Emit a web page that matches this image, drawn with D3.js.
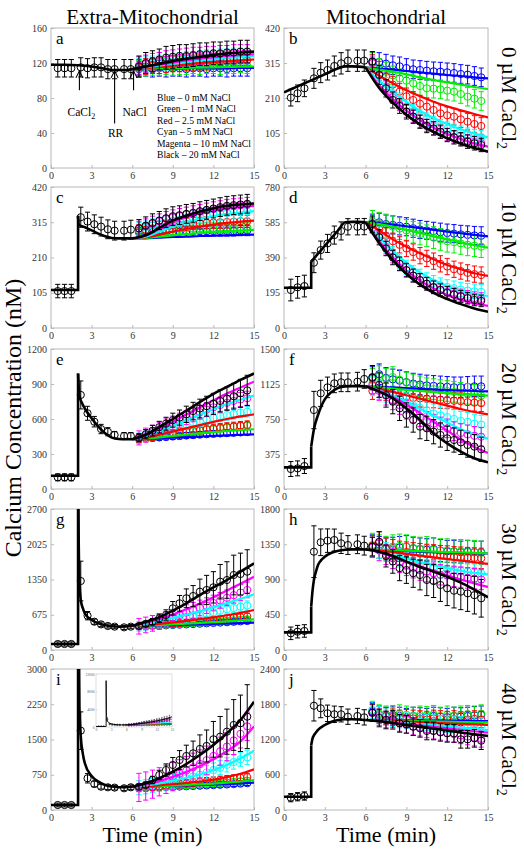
<!DOCTYPE html>
<html><head><meta charset="utf-8">
<script src="https://cdn.jsdelivr.net/npm/d3@7"></script>
<style>
body{margin:0;background:#fff}
svg{display:block}
text{font-family:"Liberation Serif","Times New Roman",serif !important;font-weight:normal}
</style>
</head><body>
<svg id="c" width="524" height="854"></svg>
<script>
// ---------- shared data ----------
const seriesLegend = ["Blue \u2013 0 mM NaCl","Green \u2013 1 mM NaCl","Red \u2013 2.5 mM NaCl","Cyan \u2013 5 mM NaCl","Magenta \u2013 10 mM NaCl","Black \u2013 20 mM NaCl"];
const seriesColors = ["#0000ff","#00ee00","#ff0000","#00ffff","#ff00ff","#000000"];
const timePre = [0.5,1,1.5,2.2,2.7,3.2,3.7,4.2,4.7,5.4,5.9];
const timePost = [6.5,7,7.5,8,8.5,9,9.5,10,10.5,11,11.5,12,12.5,13,13.5,14,14.5];
const modelPostTime = [6,7,8,9,10,11,12,13,14,15];
const xTicks = [0,3,6,9,12,15];
const columnTitles = ["Extra-Mitochondrial","Mitochondrial"];
const rowLabels = ["0 \u00b5M CaCl","10 \u00b5M CaCl","20 \u00b5M CaCl","30 \u00b5M CaCl","40 \u00b5M CaCl"];
const yTitle = "Calcium Concentration (nM)";
const xTitle = "Time (min)";

// ---------- panel a ----------
const aYTicks = [0,40,80,120,160];
const aModelPreT = [0,1,2,3,4,4.5,5,5.5,6];
const aModelPre = [118,118,117.5,116,113.5,112,112,112,113];
const aModelPost = [
 [113,113,113.5,113.5,114,114,114,114,114.5,114.5],
 [113,113.3,113.7,114,114.4,114.8,115.1,115.4,115.7,116],
 [113,114,115.5,117,118.5,120,121,122,123,124],
 [113,115,117,119,121,123,124.5,126,127,128],
 [113,115.5,118,120.5,123,125,126.5,128,129,130],
 [113,116,119,122,125,127,129,131,132,133]];
const aBlackPre = [114,114,114,115,114,115,115,113,113,113,113];
const aBlackPreErr = [10,10,10,11,11,11,11,11,11,11,11];
const aPostData = [
 [113,114,113,114,113,114,114,113,114,114,113,114,114,113,114,114,114],
 [114,114,115,115,116,115,116,116,117,116,117,117,116,117,117,118,117],
 [115,116,117,117,118,119,119,120,120,121,121,122,122,122,123,123,123],
 [116,118,119,120,121,122,123,124,124,125,126,126,127,127,128,128,128],
 [117,119,121,122,124,125,126,127,128,128,129,129,130,130,131,131,131],
 [116,120,122,124,126,127,128,128,129,130,130,131,131,132,132,133,133]];
const aColorErr = [9,9,9,9,10];
const aBlackPostErr = [12,12,12,12,13,13,13,13,13,13,13,13,13,13,13,13,13];

// ---------- panel b ----------
const bYTicks = [0,105,210,315,420];
const bModelPreT = [0,1,2,3,4,4.5,5,5.5,6];
const bModelPre = [227,245,263,281,299,305,305,304,302];
const bModelPost = [
 [302,298,295,291,287,283,279,276,272,269],
 [302,295,289,281,272,264,257,250,243,237],
 [302,277,254,233,215,199,185,173,162,152],
 [302,262,228,198,172,150,132,116,103,92],
 [302,248,206,172,144,121,102,87,74,64],
 [302,240,196,160,131,108,89,73,60,49]];
const bBlackPre = [211,224,239,269,286,294,306,314,322,322,322];
const bBlackPreErr = [25,25,25,30,30,30,30,32,32,32,32];
const bPostData = [
 [320,318,313,308,305,300,296,294,292,290,289,287,285,282,280,276,272],
 [318,300,289,278,269,262,254,246,239,238,236,232,229,222,214,208,201],
 [315,295,274,250,229,215,204,193,184,174,164,158,154,146,139,132,126],
 [318,285,252,225,205,185,170,155,145,135,125,118,112,106,100,96,92],
 [315,280,245,212,190,170,155,140,128,117,108,100,93,87,82,78,75],
 [319,279,239,204,186,169,154,139,126,119,109,99,92,86,79,74,69]];
const bColorErr = [28,28,25,20,18];
const bBlackPostErr = [30,28,26,24,22,22,20,20,20,20,20,20,20,20,20,20,20];

// ---------- panel c ----------
const cYTicks = [0,105,210,315,420];
const cModelPreT = [0,2,2,2.05,2.5,3,3.5,4,4.5,5,5.5,6];
const cModelPre = [113,113,334,308,300,291,281,273,268,267,267,267];
const cModelPost = [
 [267,267,269,271,272,274,275,276,277,278],
 [267,268,272,276,280,283,286,288,290,292],
 [267,270,278,287,295,302,308,313,317,320],
 [267,272,287,302,315,325,333,339,344,348],
 [267,275,295,315,330,342,351,357,361,364],
 [267,276,298,320,335,347,357,364,368,371]];
const cBlackPre = [110,110,110,330,317,309,302,294,290,290,293];
const cBlackPreErr = [20,20,20,30,28,28,28,28,28,28,28];
const cPostData = [
 [285,285,286,286,287,287,287,288,288,288,288,289,289,289,289,290,290],
 [288,289,290,292,293,294,295,296,296,297,298,298,299,299,300,300,300],
 [290,293,297,300,303,305,307,309,311,312,313,314,315,316,317,318,318],
 [294,299,305,310,315,319,323,327,330,333,336,339,341,343,345,347,348],
 [296,303,311,318,325,330,334,338,342,346,350,354,357,361,363,365,367],
 [297,305,313,320,327,333,336,340,343,348,352,356,360,364,366,368,370]];
const cColorErr = [15,15,18,20,22];
const cBlackPostErr = [26,26,27,27,28,28,28,28,28,28,28,28,28,28,28,28,28];

// ---------- panel d ----------
const dYTicks = [0,195,390,585,780];
const dModelPreT = [0,2,2,2.5,3,3.5,4,4.5,5,5.5,6];
const dModelPre = [223,223,367,411,455,498,542,585,587,587,585];
const dModelPost = [
 [585,580,572,563,553,543,533,524,515,507],
 [585,575,560,543,525,507,490,474,458,445],
 [585,540,490,450,413,380,349,325,303,288],
 [585,500,425,360,308,265,232,206,188,177],
 [585,480,390,318,262,218,183,155,136,122],
 [585,470,375,300,240,195,160,132,108,90]];
const dBlackPre = [210,225,232,361,431,468,514,537,560,560,561];
const dBlackPreErr = [60,60,60,55,50,50,50,50,45,45,45];
const dPostData = [
 [580,585,575,570,565,560,552,545,540,535,530,525,522,518,515,512,510],
 [590,580,570,560,550,540,530,520,510,500,490,480,475,468,460,455,450],
 [570,545,510,480,460,440,420,400,385,370,355,340,325,315,305,298,293],
 [575,520,460,410,370,335,305,285,265,250,237,227,220,213,207,203,200],
 [575,505,445,395,355,320,290,265,245,228,213,200,190,180,172,165,160],
 [575,502,440,390,355,320,290,265,245,225,210,195,185,175,165,155,150]];
const dColorErr = [50,60,45,40,35];
const dBlackPostErr = [45,42,40,40,38,38,36,36,35,35,34,34,33,33,32,32,32];

// ---------- panel e ----------
const eYTicks = [0,300,600,900,1200];
const eModelPreT = [0,2,2,2.1,2.3,2.5,3,3.5,4,4.5,5,5.5,6];
const eModelPre = [114,114,990,800,735,690,606,534,477,440,428,426,426];
const eModelPost = [
 [426,429,434,440,445,450,455,460,465,469],
 [426,432,443,455,466,477,488,497,505,512],
 [426,440,465,492,520,548,575,600,622,640],
 [426,452,495,540,590,638,685,728,765,800],
 [426,460,515,575,638,700,760,818,870,920],
 [426,465,530,600,672,745,815,875,935,990]];
const eBlackPre = [100,100,100,806,649,577,514,491,463,454,454];
const eBlackPreErr = [30,30,30,120,60,45,40,35,30,30,30];
const ePostData = [
 [430,434,438,442,446,450,454,458,462,466,470,473,476,479,482,485,488],
 [430,438,447,455,462,470,478,485,492,500,507,513,520,527,534,540,545],
 [432,440,450,460,468,476,485,492,500,507,514,520,527,533,538,544,549],
 [435,452,470,488,505,520,538,553,568,582,596,608,622,634,645,655,663],
 [438,462,488,512,540,565,590,612,636,658,680,700,720,738,755,768,778],
 [440,470,500,530,560,590,612,640,668,690,710,730,755,775,795,820,845]];
const eColorErr = [25,30,35,45,60];
const eBlackPostErr = [35,40,45,50,55,60,65,70,75,80,85,90,95,100,110,120,130];

// ---------- panel f ----------
const fYTicks = [0,375,750,1125,1500];
const fModelPreT = [0,2,2,2.2,2.5,2.75,3,3.5,4,4.5,5,5.5,6];
const fModelPre = [232,232,454,640,793,890,960,1040,1085,1100,1102,1102,1100];
const fModelPost = [
 [1100,1095,1088,1080,1073,1066,1060,1055,1050,1045],
 [1100,1088,1075,1062,1050,1038,1027,1017,1008,1000],
 [1100,1072,1040,1005,968,930,893,857,825,800],
 [1100,1055,1000,935,860,785,710,640,583,540],
 [1100,1050,985,905,815,720,625,530,450,385],
 [1100,1043,971,864,739,596,489,400,329,286]];
const fBlackPre = [214,221,246,846,1025,1089,1132,1143,1143,1150,1179];
const fBlackPreErr = [80,80,80,200,140,110,100,100,100,100,100];
const fPostData = [
 [1200,1230,1190,1175,1160,1145,1130,1120,1110,1105,1100,1095,1090,1090,1095,1100,1100],
 [1180,1210,1180,1200,1170,1140,1120,1100,1080,1070,1060,1050,1040,1030,1020,1010,1000],
 [1050,1070,1040,1010,1000,990,975,970,965,960,955,950,945,940,930,925,920],
 [1100,1060,1030,1000,960,930,900,870,840,810,790,770,750,730,720,700,690],
 [1120,1050,1000,950,900,850,810,770,730,700,670,650,620,600,585,570,560],
 [1193,1114,1007,936,864,793,739,668,650,614,579,543,525,500,471,454,425]];
const fColorErr = [110,110,90,100,100];
const fBlackPostErr = [130,130,130,130,130,130,130,130,130,130,130,130,130,130,130,130,130];

// ---------- panel g ----------
const gYTicks = [0,675,1350,2025,2700];
const gModelPreT = [0,2,2,2.05,2.1,2.2,2.35,2.5,3,3.5,4,4.5,5,5.5,6];
const gModelPre = [115,115,3500,2000,1340,958,800,702,575,511,473,455,447,450,460];
const gModelPost = [
 [460,465,471,478,485,492,500,508,516,523],
 [460,468,478,490,503,517,532,548,567,588],
 [460,478,500,527,557,590,625,665,712,766],
 [460,500,550,610,675,745,820,900,980,1066],
 [460,520,590,680,780,890,1010,1140,1270,1404],
 [460,542,626,753,894,1053,1200,1340,1500,1660]];
const gBlackPre = [115,115,115,1321,657,542,491,460,447,434,447];
const gBlackPreErr = [40,40,40,380,80,50,45,40,40,40,40];
const gPostData = [
 [450,455,460,466,472,478,484,490,497,504,511,518,525,532,540,548,555],
 [450,457,465,472,480,488,496,505,513,522,530,540,550,560,570,580,590],
 [450,460,470,480,490,502,515,528,540,553,566,580,594,608,620,632,645],
 [452,470,490,512,535,560,585,610,635,660,690,720,750,780,805,830,850],
 [455,480,510,545,585,625,670,715,760,805,850,900,950,1000,1050,1100,1150],
 [460,498,542,606,670,798,894,990,1034,1117,1149,1200,1308,1340,1436,1455,1500]];
const gColorErr = [40,50,60,90,150];
const gBlackPostErr = [40,50,60,80,100,130,150,180,200,240,280,300,330,350,380,400,420];

// ---------- panel h ----------
const hYTicks = [0,450,900,1350,1800];
const hModelPreT = [0,2,2,2.1,2.2,2.35,2.5,2.75,3,3.5,4,4.5,5,5.5,6];
const hModelPre = [225,225,553,760,894,1000,1085,1150,1191,1242,1268,1280,1285,1285,1283];
const hModelPost = [
 [1283,1278,1270,1262,1255,1250,1245,1240,1236,1232],
 [1283,1280,1275,1268,1262,1256,1250,1245,1240,1235],
 [1283,1270,1250,1228,1205,1182,1160,1140,1120,1100],
 [1283,1252,1210,1165,1122,1082,1045,1012,985,965],
 [1283,1245,1190,1130,1070,1012,955,900,850,805],
 [1283,1255,1200,1128,1060,1000,936,860,770,673]];
const hBlackPre = [213,234,243,1255,1375,1396,1404,1362,1340,1350,1332];
const hBlackPreErr = [80,80,80,330,170,150,140,130,120,120,120];
const hPostData = [
 [1330,1310,1290,1300,1310,1320,1300,1290,1280,1290,1270,1260,1260,1250,1260,1250,1250],
 [1340,1320,1300,1320,1330,1320,1300,1290,1300,1280,1270,1270,1260,1260,1250,1250,1240],
 [1330,1380,1300,1280,1260,1250,1240,1230,1220,1215,1205,1200,1190,1185,1180,1175,1170],
 [1320,1290,1250,1210,1180,1150,1120,1100,1080,1060,1040,1030,1020,1010,1000,990,980],
 [1310,1270,1220,1170,1120,1080,1050,1020,1000,980,960,950,940,930,920,910,900],
 [1320,1380,1200,1130,1045,1020,980,957,894,880,830,787,757,745,723,700,660]];
const hColorErr = [140,150,130,120,130];
const hBlackPostErr = [120,130,140,150,160,170,180,190,200,210,210,220,220,230,230,240,240];

// ---------- panel i ----------
const iYTicks = [0,750,1500,2250,3000];
const iModelPreT = [0,2,2,2.05,2.1,2.2,2.35,2.5,3,3.5,4,4.5,5,5.5,6];
const iModelPre = [106,106,10500,4000,2200,1560,1200,994,724,603,532,500,483,485,496];
const iModelPost = [
 [496,500,506,513,521,530,540,552,565,581],
 [496,502,510,520,532,546,562,582,606,638],
 [496,508,525,548,575,607,645,700,770,866],
 [496,525,568,620,685,760,850,960,1095,1262],
 [496,545,615,705,810,935,1080,1250,1460,1780],
 [496,568,675,816,979,1170,1383,1632,1915,2305]];
const iBlackPre = [106,106,106,1688,675,553,496,483,476,462,483];
const iBlackPreErr = [40,40,40,400,100,60,50,50,50,50,50];
const iPostData = [
 [470,474,478,483,488,493,498,504,510,516,522,529,536,543,551,560,570],
 [470,476,483,490,497,505,513,521,530,540,550,560,572,585,598,612,625],
 [470,480,490,505,520,535,550,565,580,595,610,625,640,655,670,685,700],
 [475,495,520,545,575,605,640,675,715,755,800,850,900,960,1020,1080,1120],
 [480,510,550,600,650,710,770,840,910,980,1060,1150,1250,1350,1480,1620,1780],
 [496,532,638,745,851,958,1064,1149,1206,1298,1362,1504,1560,1666,1809,1845,1986]];
const iColorErr = [50,60,80,150,300];
const iBlackPostErr = [50,60,80,100,130,160,200,230,260,300,340,380,430,480,540,600,680];
const insetYTicks = [0,4000,8000,12000];

// ---------- panel j ----------
const jYTicks = [0,600,1200,1800,2400];
const jModelPreT = [0,2,2,2.1,2.2,2.35,2.5,3,3.5,4,4.5,5,5.5,6];
const jModelPre = [226,226,1100,1220,1270,1320,1362,1447,1503,1532,1544,1545,1540,1532];
const jModelPost = [
 [1532,1530,1528,1526,1524,1522,1520,1518,1516,1514],
 [1532,1528,1523,1518,1513,1508,1503,1498,1494,1490],
 [1532,1524,1515,1505,1495,1485,1475,1466,1457,1448],
 [1532,1518,1500,1480,1460,1440,1420,1400,1380,1360],
 [1532,1514,1490,1465,1440,1415,1390,1365,1340,1316],
 [1532,1510,1480,1447,1415,1385,1355,1320,1290,1259]];
const jBlackPre = [210,226,238,1775,1731,1646,1629,1629,1588,1600,1577];
const jBlackPreErr = [70,70,70,260,160,140,140,130,130,130,130];
const jPostData = [
 [1680,1620,1600,1620,1600,1580,1600,1590,1580,1600,1590,1580,1600,1590,1600,1610,1620],
 [1700,1640,1620,1600,1640,1620,1600,1620,1610,1630,1600,1620,1600,1620,1630,1620,1640],
 [1660,1620,1600,1580,1560,1570,1560,1550,1540,1560,1550,1540,1550,1530,1540,1550,1540],
 [1700,1620,1580,1560,1540,1530,1510,1500,1490,1480,1470,1460,1460,1450,1440,1440,1430],
 [1650,1580,1540,1510,1480,1450,1420,1400,1370,1350,1330,1310,1290,1270,1250,1230,1210],
 [1656,1566,1532,1545,1475,1458,1418,1390,1345,1345,1322,1305,1305,1203,1203,1220,1180]];
const jColorErr = [150,150,140,140,140];
const jBlackPostErr = [150,150,150,150,150,150,150,150,150,150,150,150,150,150,150,150,150];

// ---------- layout ----------
const colX = [[51,254],[284,488]];
const rowY = [[28,168],[187,328],[349,489],[509,650],[669,810]];

const panels = [
 {id:"a",col:0,row:0,yt:aYTicks,mT:aModelPreT,mV:aModelPre,mP:aModelPost,bp:aBlackPre,bpe:aBlackPreErr,pd:aPostData,ce:aColorErr,bpo:aBlackPostErr},
 {id:"b",col:1,row:0,yt:bYTicks,mT:bModelPreT,mV:bModelPre,mP:bModelPost,bp:bBlackPre,bpe:bBlackPreErr,pd:bPostData,ce:bColorErr,bpo:bBlackPostErr},
 {id:"c",col:0,row:1,yt:cYTicks,mT:cModelPreT,mV:cModelPre,mP:cModelPost,bp:cBlackPre,bpe:cBlackPreErr,pd:cPostData,ce:cColorErr,bpo:cBlackPostErr},
 {id:"d",col:1,row:1,yt:dYTicks,mT:dModelPreT,mV:dModelPre,mP:dModelPost,bp:dBlackPre,bpe:dBlackPreErr,pd:dPostData,ce:dColorErr,bpo:dBlackPostErr},
 {id:"e",col:0,row:2,yt:eYTicks,mT:eModelPreT,mV:eModelPre,mP:eModelPost,bp:eBlackPre,bpe:eBlackPreErr,pd:ePostData,ce:eColorErr,bpo:eBlackPostErr},
 {id:"f",col:1,row:2,yt:fYTicks,mT:fModelPreT,mV:fModelPre,mP:fModelPost,bp:fBlackPre,bpe:fBlackPreErr,pd:fPostData,ce:fColorErr,bpo:fBlackPostErr},
 {id:"g",col:0,row:3,yt:gYTicks,mT:gModelPreT,mV:gModelPre,mP:gModelPost,bp:gBlackPre,bpe:gBlackPreErr,pd:gPostData,ce:gColorErr,bpo:gBlackPostErr},
 {id:"h",col:1,row:3,yt:hYTicks,mT:hModelPreT,mV:hModelPre,mP:hModelPost,bp:hBlackPre,bpe:hBlackPreErr,pd:hPostData,ce:hColorErr,bpo:hBlackPostErr},
 {id:"i",col:0,row:4,yt:iYTicks,mT:iModelPreT,mV:iModelPre,mP:iModelPost,bp:iBlackPre,bpe:iBlackPreErr,pd:iPostData,ce:iColorErr,bpo:iBlackPostErr},
 {id:"j",col:1,row:4,yt:jYTicks,mT:jModelPreT,mV:jModelPre,mP:jModelPost,bp:jBlackPre,bpe:jBlackPreErr,pd:jPostData,ce:jColorErr,bpo:jBlackPostErr}
];

const svg = d3.select("#c");
const defs = svg.append("defs");
const fmt = d3.format("d");
const SERIF = "Liberation Serif, Times New Roman, serif";

function drawModelPre(g, x, y, T, V, color, w) {
  let k = -1;
  for (let i = 1; i < T.length; i++) if (T[i] === T[i-1]) k = i;
  const pts = T.map((t,i) => [x(t), y(V[i])]);
  const lin = d3.line(), mono = d3.line().curve(d3.curveMonotoneX);
  if (k < 0) {
    g.append("path").attr("d", mono(pts)).attr("fill","none").attr("stroke",color).attr("stroke-width",w).attr("stroke-linejoin","round");
  } else {
    g.append("path").attr("d", lin(pts.slice(0,k+1))).attr("fill","none").attr("stroke",color).attr("stroke-width",w);
    g.append("path").attr("d", mono(pts.slice(k))).attr("fill","none").attr("stroke",color).attr("stroke-width",w).attr("stroke-linejoin","round");
  }
}
function drawErr(g, x, y, t, v, e, color, sw, cap, r) {
  const cx = x(t);
  g.append("line").attr("x1",cx).attr("x2",cx).attr("y1",y(v-e)).attr("y2",y(v+e)).attr("stroke",color).attr("stroke-width",sw);
  g.append("line").attr("x1",cx-cap).attr("x2",cx+cap).attr("y1",y(v-e)).attr("y2",y(v-e)).attr("stroke",color).attr("stroke-width",sw);
  g.append("line").attr("x1",cx-cap).attr("x2",cx+cap).attr("y1",y(v+e)).attr("y2",y(v+e)).attr("stroke",color).attr("stroke-width",sw);
  g.append("circle").attr("cx",cx).attr("cy",y(v)).attr("r",r).attr("fill","none").attr("stroke",color).attr("stroke-width",sw);
}
function drawContent(g, x, y, p, s) {
  for (let k = 0; k < 5; k++) {
    timePost.forEach((t,i) => drawErr(g, x, y, t, p.pd[k][i], p.ce[k], seriesColors[k], s.sw, s.cap, s.r));
  }
  const mono = d3.line().curve(d3.curveMonotoneX);
  for (let k = 0; k < 5; k++) {
    g.append("path").attr("d", mono(modelPostTime.map((t,i)=>[x(t), y(p.mP[k][i])])))
      .attr("fill","none").attr("stroke",seriesColors[k]).attr("stroke-width",s.lw);
  }
  drawModelPre(g, x, y, p.mT, p.mV, "#000", s.blw);
  g.append("path").attr("d", mono(modelPostTime.map((t,i)=>[x(t), y(p.mP[5][i])])))
    .attr("fill","none").attr("stroke","#000").attr("stroke-width",s.blw);
  timePre.forEach((t,i) => drawErr(g, x, y, t, p.bp[i], p.bpe[i], "#000", s.sw, s.cap, s.r));
  timePost.forEach((t,i) => drawErr(g, x, y, t, p.pd[5][i], p.bpo[i], "#000", s.sw, s.cap, s.r));
}

panels.forEach(p => {
  const [x0,x1] = colX[p.col], [y0,y1] = rowY[p.row];
  const yMax = p.yt[p.yt.length-1];
  const x = d3.scaleLinear().domain([0,15]).range([x0,x1]);
  const y = d3.scaleLinear().domain([0,yMax]).range([y1,y0]);
  const g = svg.append("g");
  g.append("rect").attr("x",x0).attr("y",y0).attr("width",x1-x0).attr("height",y1-y0).attr("fill","#fff").attr("stroke","#b8b8b8").attr("stroke-width",1);
  const ax = g.append("g").attr("transform",`translate(0,${y1})`)
    .call(d3.axisBottom(x).tickValues(xTicks).tickFormat(fmt).tickSizeInner(-3).tickSizeOuter(0).tickPadding(4));
  const ay = g.append("g").attr("transform",`translate(${x0},0)`)
    .call(d3.axisLeft(y).tickValues(p.yt).tickFormat(fmt).tickSizeInner(-3).tickSizeOuter(0).tickPadding(4));
  [ax,ay].forEach(a => {
    a.attr("font-family", SERIF);
    a.select(".domain").remove();
    a.selectAll("line").attr("stroke","#b8b8b8");
    a.selectAll("text").attr("font-size",10).attr("fill","#333").attr("font-family",SERIF);
  });
  defs.append("clipPath").attr("id","clip"+p.id).append("rect").attr("x",x0).attr("y",y0).attr("width",x1-x0).attr("height",y1-y0);
  const cg = g.append("g").attr("clip-path",`url(#clip${p.id})`);
  drawContent(cg, x, y, p, {sw:1, cap:2.6, r:3.6, lw:2.2, blw:2.6});
  g.append("text").attr("x",x0+5).attr("y",y0+16).attr("font-size",17).text(p.id);

  if (p.id === "a") {
    const arrows = [{t:2.1,top:111,bot:89,label:"CaCl",sub:"2",ly:60},{t:4.7,top:111,bot:51,label:"RR",sub:"",ly:35},{t:6.1,top:111,bot:89,label:"NaCl",sub:"",ly:60}];
    arrows.forEach(a => {
      const ax0 = x(a.t), yt = y(a.top), yb = y(a.bot);
      g.append("line").attr("x1",ax0).attr("x2",ax0).attr("y1",yt).attr("y2",yb).attr("stroke","#000").attr("stroke-width",1.1);
      g.append("path").attr("d",`M${ax0-3.5},${yt+7}L${ax0},${yt}L${ax0+3.5},${yt+7}`).attr("fill","none").attr("stroke","#000").attr("stroke-width",1.1);
      const tx = g.append("text").attr("x",ax0 + (a.sub? 2 : 1)).attr("y",y(a.ly)).attr("text-anchor","middle").attr("font-size",11.5).text(a.label);
      if (a.sub) tx.append("tspan").attr("font-size",8).attr("dy",3).text(a.sub);
    });
    seriesLegend.forEach((s,i) => {
      g.append("text").attr("x",x0+106).attr("y",y0+73+i*11.4).attr("font-size",9.6).text(s);
    });
  }
  if (p.id === "i") {
    const ix0 = 96, ix1 = 172, iy0 = 674, iy1 = 727;
    const xi = d3.scaleLinear().domain([0,15]).range([ix0,ix1]);
    const yi = d3.scaleLinear().domain([0,12000]).range([iy1,iy0]);
    const ig = g.append("g");
    ig.append("rect").attr("x",ix0).attr("y",iy0).attr("width",ix1-ix0).attr("height",iy1-iy0).attr("fill","#fff").attr("stroke","#c8c8c8").attr("stroke-width",0.6);
    const iax = ig.append("g").attr("transform",`translate(0,${iy1})`).call(d3.axisBottom(xi).tickValues(xTicks).tickFormat(fmt).tickSizeInner(-1.5).tickSizeOuter(0).tickPadding(1.5));
    const iay = ig.append("g").attr("transform",`translate(${ix0},0)`).call(d3.axisLeft(yi).tickValues(insetYTicks).tickFormat(fmt).tickSizeInner(-1.5).tickSizeOuter(0).tickPadding(1.5));
    [iax,iay].forEach(a => {
      a.attr("font-family", SERIF);
      a.select(".domain").remove();
      a.selectAll("line").attr("stroke","#c8c8c8").attr("stroke-width",0.5);
      a.selectAll("text").attr("font-size",3.6).attr("fill","#555").attr("font-family",SERIF);
    });
    defs.append("clipPath").attr("id","clipInset").append("rect").attr("x",ix0).attr("y",iy0).attr("width",ix1-ix0).attr("height",iy1-iy0);
    const icg = ig.append("g").attr("clip-path","url(#clipInset)");
    drawContent(icg, xi, yi, p, {sw:0.4, cap:0.8, r:0.9, lw:0.8, blw:0.9});
  }
});

rowY.forEach((r,i) => {
  const cy = (r[0]+r[1])/2;
  const t = svg.append("text").attr("transform",`translate(502,${cy}) rotate(90)`).attr("text-anchor","middle").attr("font-size",21).text(rowLabels[i]);
  t.append("tspan").attr("font-size",14).attr("dy",5).text("2");
});
svg.append("text").attr("x",(colX[0][0]+colX[0][1])/2).attr("y",24).attr("text-anchor","middle").attr("font-size",21).text(columnTitles[0]);
svg.append("text").attr("x",(colX[1][0]+colX[1][1])/2).attr("y",24).attr("text-anchor","middle").attr("font-size",21).text(columnTitles[1]);
svg.append("text").attr("transform","translate(21,418) rotate(-90)").attr("text-anchor","middle").attr("font-size",24).text(yTitle);
svg.append("text").attr("x",(colX[0][0]+colX[0][1])/2).attr("y",842).attr("text-anchor","middle").attr("font-size",22).text(xTitle);
svg.append("text").attr("x",(colX[1][0]+colX[1][1])/2).attr("y",842).attr("text-anchor","middle").attr("font-size",22).text(xTitle);
</script>
</body></html>
